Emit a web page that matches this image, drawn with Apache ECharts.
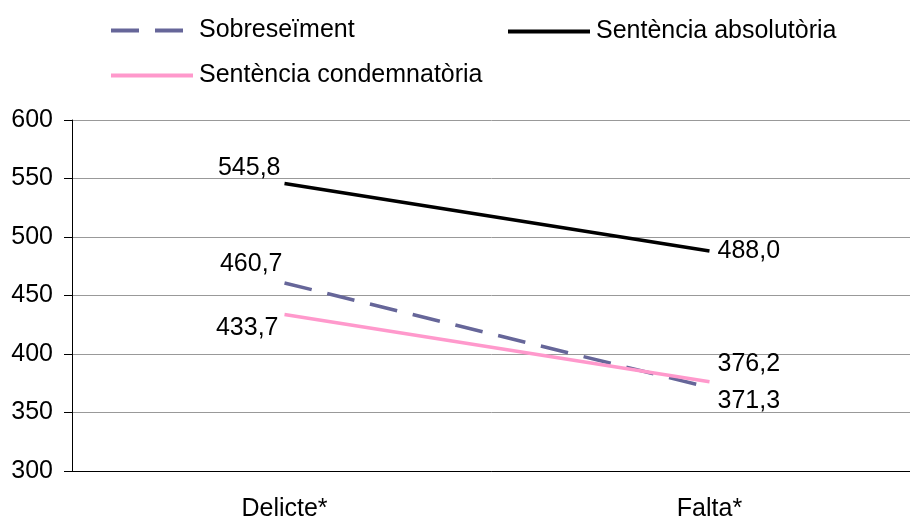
<!DOCTYPE html>
<html><head><meta charset="utf-8">
<script src="https://cdn.jsdelivr.net/npm/echarts@6/dist/echarts.min.js"></script>
<style>html,body{margin:0;padding:0;background:#fff}#c{width:910px;height:521px}</style>
</head><body><div id="c"></div>
<script>
const categories = ['Delicte*', 'Falta*'];
const seriesNames = ['Sobreseïment', 'Sentència absolutòria', 'Sentència condemnatòria'];
const sobreseiment = [460.7, 371.3];
const absolutoria = [545.8, 488.0];
const condemnatoria = [433.7, 376.2];
const yTicks = [300, 350, 400, 450, 500, 550, 600];

const FONT = '"Liberation Sans", Arial, sans-serif';
const FS = 25;
const fmt = v => v.toFixed(1).replace('.', ',');
const lab = (pos, off) => ({show: true, position: pos, distance: 6, offset: off, fontSize: FS, fontFamily: FONT, color: '#000', formatter: p => fmt(p.value)});

const values = [sobreseiment, absolutoria, condemnatoria];
const colors = ['#666699', '#000000', '#FF99CC'];
const dash = [[28, 16], 'solid', 'solid'];
const labelCfg = [
  [lab('left', [4, -19]), lab('right', [2, 14])],
  [lab('left', [2, -15]), lab('right', [2, 0])],
  [lab('left', [0, 14]), lab('right', [2, -18])]
];

const chart = echarts.init(document.getElementById('c'));
const legendBase = {itemWidth: 82, itemHeight: 14, itemGap: 5, itemStyle: {opacity: 0}, lineStyle: {width: 4}, textStyle: {fontSize: FS, fontFamily: FONT, color: '#000', padding: [0,0,0,1]}};
chart.setOption({
  animation: false,
  legend: [
    Object.assign({data: [seriesNames[0]], left: 104, top: 13}, legendBase),
    Object.assign({data: [seriesNames[1]], left: 501, top: 14}, legendBase),
    Object.assign({data: [seriesNames[2]], left: 104, top: 58}, legendBase)
  ],
  grid: {left: 72, top: 120, width: 850, height: 351, containLabel: false, outerBoundsMode: 'none'},
  xAxis: {
    type: 'category', data: categories, boundaryGap: true,
    axisLine: {lineStyle: {color: '#000', width: 1}},
    axisTick: {show: false},
    axisLabel: {fontSize: FS, fontFamily: FONT, color: '#000', margin: 26}
  },
  yAxis: {
    type: 'value', min: yTicks[0], max: yTicks[yTicks.length - 1], interval: 50,
    axisLine: {show: true, lineStyle: {color: '#000'}},
    axisTick: {show: true, length: 8, lineStyle: {color: '#000'}},
    axisLabel: {fontSize: FS, fontFamily: FONT, color: '#000', margin: 19},
    splitLine: {lineStyle: {color: '#999', width: 1}}
  },
  series: seriesNames.map((n, i) => ({
    name: n, type: 'line', symbol: 'circle', symbolSize: 0,
    itemStyle: {color: colors[i]},
    lineStyle: {color: colors[i], width: 3.5, type: dash[i]},
    data: values[i].map((v, j) => ({value: v, label: labelCfg[i][j]}))
  }))
});
</script></body></html>
